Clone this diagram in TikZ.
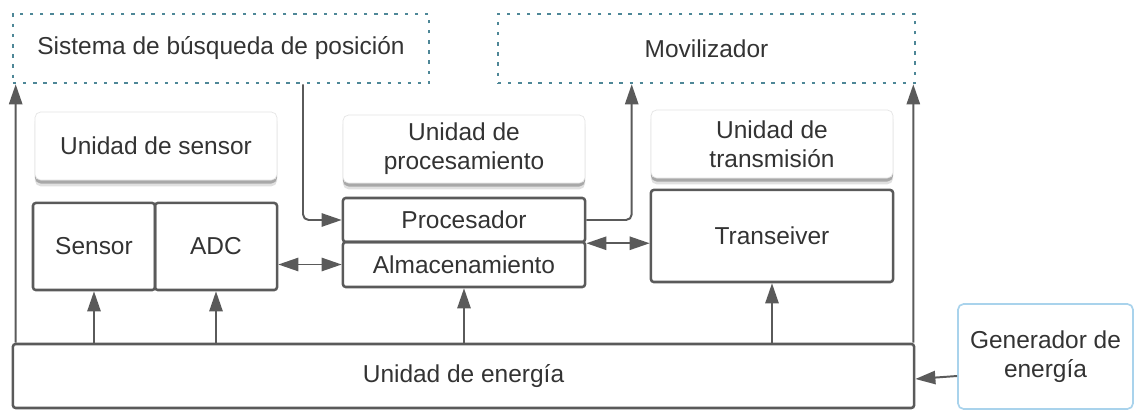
\documentclass[tikz,border=0pt]{standalone}
\usepackage{fontspec}
\setmainfont{Liberation Sans}
\usepackage{xcolor}
\usetikzlibrary{arrows.meta,shadows}

\definecolor{linea}{HTML}{5A5A5A}
\definecolor{texto}{HTML}{333333}
\definecolor{punteado}{HTML}{4E8797}
\definecolor{celeste}{HTML}{A9D3EC}

\tikzset{
	externa/.style={draw=punteado, line width=1.8pt, dash pattern=on 2.4pt off 4.8pt, minimum height=1.725cm, inner sep=0pt},
	titulo/.style={fill=white, draw=black!10, line width=0.5pt, rounded corners=4pt, minimum width=6.05cm, minimum height=1.7cm, align=center, inner sep=0pt,
		drop shadow={shadow xshift=0pt, shadow yshift=-4.5pt, opacity=0.12, fill=black},
		drop shadow={shadow xshift=0pt, shadow yshift=-2.5pt, opacity=0.25, fill=black}},
	bloque/.style={draw=linea, line width=1.8pt, rounded corners=2pt, inner sep=0pt, align=center},
	flecha/.style={-{Triangle[length=5mm,width=3.3mm]}},
	doble/.style={{Triangle[length=5mm,width=3.3mm]}-{Triangle[length=5mm,width=3.3mm]}},
}

\begin{document}
\begin{tikzpicture}[x=0.025cm, y=-0.025cm, line width=1.4pt, draw=linea, text=texto, font=\fontsize{17.4}{20.5}\selectfont]
	\useasboundingbox (0,0) rectangle (1134,411);
	%\draw[help lines,step=1cm] (0,0) grid (1134,411);

	% sistemas externos
	\node[externa, minimum width=10.4cm] (sist) at (221,48.5) {Sistema de búsqueda de posición};
	\node[externa, minimum width=10.425cm] (movil) at (706.5,48.5) {Movilizador};

	% titulos de las unidades
	\node[titulo] (usens) at (156,146) {Unidad de sensor};
	\node[titulo] (uproc) at (464,149) {Unidad de\\procesamiento};
	\node[titulo] (utrans) at (772,144) {Unidad de\\transmisión};

	% bloques
	\node[bloque, minimum width=3.05cm, minimum height=2.175cm] (sensor) at (94,246.5) {Sensor};
	\node[bloque, minimum width=3.05cm, minimum height=2.175cm] (adc) at (216,246.5) {ADC};
	\node[bloque, minimum width=6.05cm, minimum height=1.1cm] (proc) at (464,220) {Procesador};
	\node[bloque, minimum width=6.05cm, minimum height=1.125cm] (almac) at (464,264.5) {Almacenamiento};
	\node[bloque, minimum width=6.05cm, minimum height=2.3cm] (trans) at (772,236) {Transeiver};
	\node[bloque, minimum width=22.525cm, minimum height=1.6cm] (energia) at (463.5,376) {Unidad de energía};
	\node[bloque, draw=celeste, line width=1.2pt, rounded corners=4pt, minimum width=4.375cm, minimum height=2.625cm] (gen) at (1045.5,356.5) {Generador de\\energía};

	% alimentacion
	\draw[flecha] ([xshift=0.1cm]energia.north west) -- ([xshift=0.1cm]sist.south west);
	\draw[flecha] ([xshift=-0.05cm]energia.north east) -- ([xshift=-0.075cm]movil.south east);
	\draw[flecha] (sensor.south |- energia.north) -- (sensor.south);
	\draw[flecha] (adc.south |- energia.north) -- (adc.south);
	\draw[flecha] (almac.south |- energia.north) -- (almac.south);
	\draw[flecha] (trans.south |- energia.north) -- (trans.south);
	\draw[flecha] (energia.east -| gen.west) -- ([yshift=-0.075cm]energia.east);

	% datos
	\draw[flecha, rounded corners=4pt] (sist.south) ++(82,0) |- (proc.west);
	\draw[flecha, rounded corners=4pt] (proc.east) -| ([xshift=3.375cm]movil.south west);
	\draw[doble] (almac.west -| adc.east) -- (almac.west);
	\draw[doble] (proc.south east) -- (proc.south east -| trans.west);
\end{tikzpicture}
\end{document}
